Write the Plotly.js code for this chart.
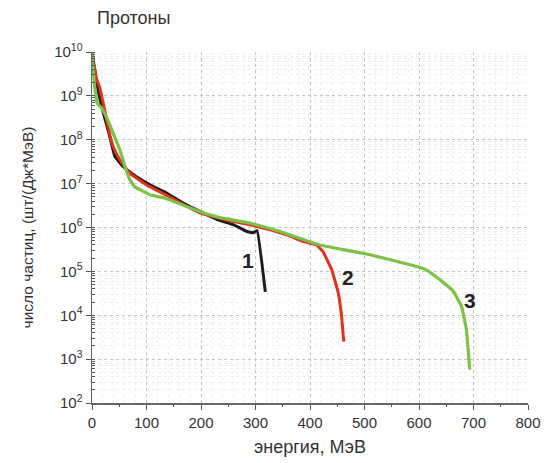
<!DOCTYPE html>
<html><head><meta charset="utf-8">
<script src="https://cdn.plot.ly/plotly-3.0.1.min.js"></script>
<style>body{margin:0;background:#fff}#c{width:554px;height:463px}</style>
</head><body><div id="c"></div>
<script>
// Curve 1 (black)
const e1 = [0, 10, 20, 30, 42, 57, 81, 110, 136, 168, 199, 230, 260, 284, 296, 303, 318];
const y1 = [1e10, 1.58e9, 4.47e8, 1.58e8, 4.17e7, 2.45e7, 1.45e7, 8.9e6, 6.2e6, 3.55e6, 2.29e6, 1.51e6, 1.15e6, 8.1e5, 7.6e5, 8.5e5, 3.4e4];
// Curve 2 (red)
const e2 = [4, 8, 14, 20, 27, 33, 39, 51, 69, 100, 136, 168, 199, 250, 290, 327, 360, 388, 412, 424, 440, 452, 458, 462];
const y2 = [5e9, 2.5e9, 1.58e9, 7.4e8, 2.8e8, 1.26e8, 6.9e7, 3.5e7, 1.74e7, 9.3e6, 5.5e6, 3.3e6, 2.14e6, 1.45e6, 1.15e6, 8.9e5, 6.6e5, 4.8e5, 4e5, 2.8e5, 1.07e5, 3.2e4, 9.3e3, 2.5e3];
// Curve 3 (green)
const e3 = [0, 5, 10, 18, 27, 34, 42, 51, 60, 69, 78, 90, 107, 136, 168, 199, 230, 290, 345, 418, 510, 596, 614, 638, 663, 678, 687, 693];
const y3 = [1e10, 1.58e9, 6.6e8, 5.2e8, 3.2e8, 2e8, 1.12e8, 5.9e7, 2.6e7, 1.26e7, 8.5e6, 7.1e6, 5.5e6, 4.6e6, 3.2e6, 2.29e6, 1.74e6, 1.26e6, 8.1e5, 4e5, 2.4e5, 1.29e5, 1.07e5, 6.5e4, 3.5e4, 1.6e4, 4.7e3, 5.8e2];
const yTickVals = [1e2, 1e3, 1e4, 1e5, 1e6, 1e7, 1e8, 1e9, 1e10];
const yTickText = ['10<sup>2</sup>', '10<sup>3</sup>', '10<sup>4</sup>', '10<sup>5</sup>', '10<sup>6</sup>', '10<sup>7</sup>', '10<sup>8</sup>', '10<sup>9</sup>', '10<sup>10</sup>'];
const xTickVals = [0, 100, 200, 300, 400, 500, 600, 700, 800];
const xMinorTicks = [50, 150, 250, 350, 450, 550, 650, 750];
const curveLabels = ['1', '2', '3'];
const labelX = [287, 470, 693];
const labelY = [1.8e5, 7.4e4, 2.2e4];

const fam = 'Liberation Sans, Arial, sans-serif';
const traces = [
  {x: e1, y: y1, mode: 'lines', line: {color: '#1c1c1c', width: 3, shape: 'spline', smoothing: 0.25}},
  {x: e2, y: y2, mode: 'lines', line: {color: '#e2311d', width: 3, shape: 'spline', smoothing: 0.25}},
  {x: e3, y: y3, mode: 'lines', line: {color: '#7cc247', width: 3.2, shape: 'spline', smoothing: 0.25}},
  {x: [0, 800], y: [1e2, 1e2], xaxis: 'x2', mode: 'lines', line: {width: 0}, hoverinfo: 'skip'}
];
const layout = {
  width: 554, height: 463,
  margin: {l: 91.5, r: 26, t: 52, b: 60},
  showlegend: false,
  paper_bgcolor: '#fff', plot_bgcolor: '#fff',
  font: {family: fam, size: 15, color: '#333'},
  title: {text: 'Протоны', x: 0.175, xanchor: 'left', y: 0.962, yanchor: 'middle', font: {family: fam, size: 18, color: '#333'}},
  xaxis: {
    range: [0, 800], tickvals: xTickVals, ticks: 'outside', ticklen: 5, tickcolor: '#555',
    showline: true, linecolor: '#666', linewidth: 1.5, zeroline: false,
    showgrid: true, gridcolor: '#c4c4c4', griddash: 'dot', gridwidth: 1,
    minor: {dtick: 20, showgrid: true, gridcolor: '#eeeeee', gridwidth: 1, ticks: ''},
    tickfont: {family: fam, size: 15, color: '#333'},
    title: {text: 'энергия, МэВ', font: {family: fam, size: 18, color: '#333'}, standoff: 11}
  },
  xaxis2: {
    overlaying: 'x', range: [0, 800], side: 'bottom', anchor: 'y', tickvals: xMinorTicks,
    ticks: 'outside', ticklen: 3, tickcolor: '#555', showticklabels: false, showgrid: false, zeroline: false, showline: false
  },
  yaxis: {
    type: 'log', range: [2, 10], tickvals: yTickVals, ticktext: yTickText,
    ticks: 'outside', ticklen: 5, tickcolor: '#555',
    showline: true, linecolor: '#666', linewidth: 1.5, zeroline: false,
    showgrid: true, gridcolor: '#c4c4c4', griddash: 'dot', gridwidth: 1,
    minor: {dtick: 'D1', showgrid: true, gridcolor: '#eeeeee', gridwidth: 1, ticks: 'inside', ticklen: 3, tickcolor: '#555'},
    tickfont: {family: fam, size: 15, color: '#333'},
    title: {text: 'число частиц, (шт/(Дж*МэВ)', font: {family: fam, size: 15.5, color: '#333'}, standoff: 16}
  },
  annotations: curveLabels.map((t, i) => ({
    x: labelX[i], y: Math.log10(labelY[i]), text: '<b>' + t + '</b>', showarrow: false,
    font: {family: fam, size: 21, color: '#222'}
  }))
};
Plotly.newPlot('c', traces, layout, {staticPlot: true});
</script></body></html>
